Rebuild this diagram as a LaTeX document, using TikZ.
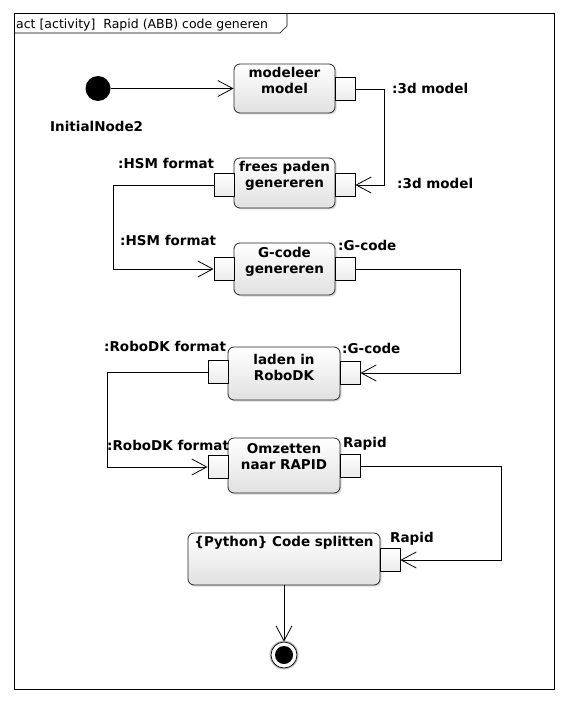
\documentclass[tikz,border=0pt]{standalone}
\usepackage{fontspec}
\setmainfont{DejaVu Sans}
\usetikzlibrary{arrows.meta,shadows}
\tikzset{
  actbox/.style={draw=black!85, line width=0.8pt, rounded corners=6pt, top color=white, bottom color=black!12,
    drop shadow={shadow xshift=1.5pt, shadow yshift=-1.5pt, fill=black!25, opacity=0.6}, inner sep=0pt},
  acttext/.style={font=\bfseries\fontsize{13.5}{16}\selectfont, align=center, inner sep=0pt, anchor=north},
  pinbox/.style={draw=black, line width=0.8pt, top color=white, bottom color=black!8, minimum width=20pt, minimum height=23pt, inner sep=0pt},
  flow/.style={line width=0.8pt, -{Straight Barb[length=15pt,width=16pt,line width=0.8pt]}},
  lbl/.style={font=\bfseries\fontsize{13.5}{16}\selectfont, inner sep=0pt, anchor=base west},
}
\begin{document}
\begin{tikzpicture}[x=1pt,y=-1pt]
\useasboundingbox (0,0) rectangle (569,711);
% frame
\draw[line width=1pt] (14,14) rectangle (554,689);
\draw[line width=0.6pt] (14,33) -- (280,33) -- (287,26) -- (287,14);
\node[anchor=base west, inner sep=0pt, font=\fontsize{12.5}{14}\selectfont] (title) at (16,29) {act [activity]\ \ Rapid (ABB) code generen};
% initial node
\node[circle, fill=black, minimum size=25pt, inner sep=0pt] (init) at (98,88.5) {};
\node[lbl] (initlbl) at (50,132) {InitialNode2};
% actions
\node[actbox, minimum width=101pt, minimum height=49pt] (a1) at (284.5,88.5) {};
\node[acttext] (t1) at ([yshift=-3pt]a1.north) {modeleer\\model};
\node[actbox, minimum width=101pt, minimum height=50pt] (a2) at (284.5,183) {};
\node[acttext] (t2) at ([yshift=-3pt]a2.north) {frees paden\\genereren};
\node[actbox, minimum width=101pt, minimum height=52pt] (a3) at (284.5,269) {};
\node[acttext] (t3) at ([yshift=-4pt]a3.north) {G-code\\genereren};
\node[actbox, minimum width=112pt, minimum height=53pt] (a4) at (284,373.5) {};
\node[acttext] (t4) at ([yshift=-7pt]a4.north) {laden in\\RoboDK};
\node[actbox, minimum width=112pt, minimum height=55pt] (a5) at (284,465.5) {};
\node[acttext] (t5) at ([yshift=-6pt]a5.north) {Omzetten\\naar RAPID};
\node[actbox, minimum width=192pt, minimum height=52pt] (a6) at (284,559) {};
\node[acttext] (t6) at ([yshift=-3pt]a6.north) {\{Python\} Code splitten};
% pins
\node[pinbox] (p1r) at (345,89) {};
\node[pinbox] (p2l) at (224,185) {};
\node[pinbox] (p2r) at (345,185) {};
\node[pinbox] (p3l) at (224,269) {};
\node[pinbox] (p3r) at (345,269) {};
\node[pinbox] (p4l) at (218,372) {};
\node[pinbox] (p4r) at (350,373) {};
\node[pinbox] (p5l) at (218,467) {};
\node[pinbox] (p5r) at (350,466) {};
\node[pinbox] (p6r) at (390,560) {};
% final node
\fill[black!25] (284,655) circle (14.5pt);
\node[circle, draw=black, line width=0.7pt, fill=white, minimum size=26pt, inner sep=0pt] (fin) at (284,655) {};
\fill[black] (fin.center) circle (9pt);
% pin labels
\node[lbl] (l1) at (392,94) {:3d model};
\node[lbl] (l2) at (397,189) {:3d model};
\node[lbl] (l3) at (118,169) {:HSM format};
\node[lbl] (l4) at (120,245) {:HSM format};
\node[lbl] (l5) at (338,250) {:G-code};
\node[lbl] (l6) at (342,353) {:G-code};
\node[lbl] (l7) at (104,351) {:RoboDK format};
\node[lbl] (l8) at (107,450) {:RoboDK format};
\node[lbl] (l9) at (343,447) {Rapid};
\node[lbl] (l10) at (390,542) {Rapid};
% flows
\draw[flow] (init.east) -- (init.east -| a1.west);
\draw[flow] (p1r.east) -- ++(29,0) |- (p2r.east);
\draw[flow] (p2l.west) -- ++(-100,0) |- (p3l.west);
\draw[flow] (p3r.east) -- ++(105,0) |- (p4r.east);
\draw[flow] (p4l.west) -- ++(-100,0) |- (p5l.west);
\draw[flow] (p5r.east) -- ++(141,0) |- (p6r.east);
\draw[flow] (a6.south -| fin.north) -- (fin.north);
\end{tikzpicture}
\end{document}
